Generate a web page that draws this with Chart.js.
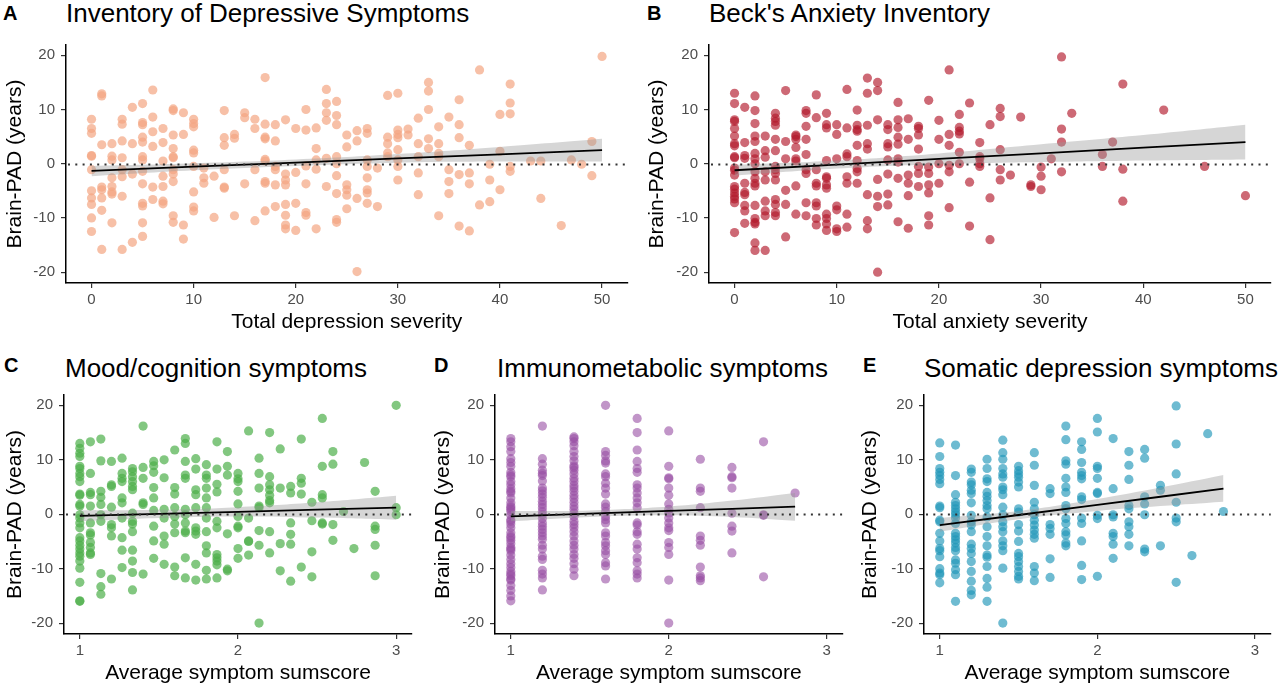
<!DOCTYPE html>
<html>
<head>
<meta charset="utf-8">
<script src="https://cdn.jsdelivr.net/npm/chart.js@4.4.1/dist/chart.umd.min.js"></script>
<style>
  body { margin: 0; background: #fff; width: 1280px; height: 690px; position: relative; overflow: hidden;
         font-family: "Liberation Sans", Arial, sans-serif; }
  canvas { position: absolute; }
  .tag { position: absolute; font-weight: bold; font-size: 20px; line-height: 20px; color: #000; }
  .ttl { position: absolute; font-size: 26px; line-height: 26px; white-space: nowrap; color: #000; }
</style>
</head>
<body>
<div class="tag" style="left:3px;top:3px">A</div>
<div class="ttl" style="left:66px;top:0px">Inventory of Depressive Symptoms</div>
<div class="tag" style="left:647px;top:3px">B</div>
<div class="ttl" style="left:709px;top:0px">Beck's Anxiety Inventory</div>
<div class="tag" style="left:4px;top:355px">C</div>
<div class="ttl" style="left:65px;top:355px">Mood/cognition symptoms</div>
<div class="tag" style="left:434px;top:355px">D</div>
<div class="ttl" style="left:497px;top:355px">Immunometabolic symptoms</div>
<div class="tag" style="left:863px;top:355px">E</div>
<div class="ttl" style="left:924px;top:355px">Somatic depression symptoms</div>

<canvas id="cA" width="640" height="310" style="left:0;top:30px"></canvas>
<canvas id="cB" width="640" height="310" style="left:640px;top:30px"></canvas>
<canvas id="cC" width="430" height="310" style="left:0;top:380px"></canvas>
<canvas id="cD" width="430" height="310" style="left:430px;top:380px"></canvas>
<canvas id="cE" width="425" height="310" style="left:855px;top:380px"></canvas>

<script>
// ---- tick labels ----
const sevTicks = [0, 10, 20, 30, 40, 50];
const avgTicks = [1, 2, 3];
const padTicks = [-20, -10, 0, 10, 20];

// ---- A: depression severity (x) vs brain-PAD (y), grouped by x ----
const depX = [0,1,2,3,4,5,6,7,8,9,10,11,12,13,14,15,16,17,18,19,20,21,22,23,24,25,26,27,28,29,30,31,32,33,34,35,36,37,38,39,40,41,43,44,46,47,48,49,50];
const depY = [
  [8.2,6.5,5.6,1.5,1.4,-1.1,-5,-6.3,-7.5,-10,-12.5],
  [12.9,12.5,3.5,-4.3,-4.8,-6.3,-8.6,-15.8],
  [3.7,1.4,0.7,-2.6,-4.2,-5.2,-5.6,-10.9],
  [8.2,7.3,4.2,1.1,-1.1,-2.4,-6,-15.8],
  [10.4,3.7,-1.9,-14.5],
  [11.1,7.6,7.2,4.9,4,1.3,0.7,-1.4,-3.7,-7.3,-7.8,-10.9,-13.4],
  [13.6,8.6,5.9,3.2,-4.3,-6.6],
  [6.5,3.9,0.5,-2.3,-4.2,-6.9,-7.4],
  [10.1,9.8,5.3,2.8,1.3,1.1,-1.1,-1.9,-3.3,-9.6,-10.8],
  [9.4,5.4,-11.3,-13.9],
  [8.2,7.4,6.8,2.5,2.0,-0.5,-5.2,-8,-8.7],
  [-0.8,-2.6,-3.6],
  [-2.3,-9.9],
  [9.8,4.8,3.4,-1.1,-4.3,-4.5],
  [5.4,4.7,-9.6],
  [9.4,8.5,-3.7],
  [8.2,6.5,-1.1,-10.5],
  [15.9,7.3,4.9,4.6,0.8,0.5,-3.3,-3.6,-8.7],
  [7.2,4.2,-0.5,-1.1,-3.9,-7.9],
  [8.1,-1.9,-3,-3.9,-7.5,-9.5,-11.3,-12],
  [6.5,-1.6,-7.3,-12.3],
  [10,6.2,-0.4,-3.7,-9,-9.5],
  [6.6,2.8,0.7,-1,-12],
  [13.7,11.1,9.4,8,1,-4.2],
  [11.5,8.9,7.2,1.3,0,-2.2,-5.5,-10.3,-10.8],
  [5.3,3.1,-3.9,-4.8,-5.8,-8.3],
  [6.1,4.2,-6.4,-19.9],
  [6.5,5.6,0.7,-0.5,-2.6,-4.8,-5.4,-7.3],
  [-0.8,-7.9],
  [12.6,4.9,3.7,2,1.3],
  [13,6.2,5.4,4.8,2.6,0.7,-0.5,-3],
  [6.4,5.3],
  [8.4,3.7,1.3,-1.7,-5.7],
  [15,13.4,10,4.6,2.8],
  [6.8,3.7,1.9,1.3,-9.6],
  [8.6,-1.1,-3.3,-5.5],
  [11.8,7.2,4.8,-2,-11.5],
  [3.4,-1.7,-3.7,-12.4],
  [17.3,-7.6],
  [-0.1,-3,-7],
  [9.1,2.3,-4.8],
  [14.7,11.2,9.2,-0.5,-1.4],
  [0.5],
  [0.5,-6.4],
  [-11.4],
  [0.7],
  [-0.1],
  [4.1,-2.2],
  [19.8]
];
const depBandX = [0, 10, 20, 30, 40, 50];
const depFit = [-1.3, -0.54, 0.22, 0.98, 1.74, 2.5];
const depHi = [-0.4, 0.1, 0.8, 1.8, 3.1, 4.6];
const depLo = [-2.3, -1.2, -0.4, 0.2, 0.4, 0.4];

// ---- B: anxiety severity ----
const anxX = [0,1,2,3,4,5,6,7,8,9,10,11,12,13,14,15,16,17,18,19,20,21,22,23,24,25,26,27,28,29,30,31,32,33,36,37,38,42,46,50];
const anxY = [
  [13,11.1,8.1,7.8,6.5,5.1,3.7,3.3,1.3,1.1,-0.8,-1.2,-2.1,-4.2,-4.7,-5.4,-6,-6.5,-7.2,-12.7],
  [10.4,3.9,1.5,1,-3.6,-5.3,-5.7,-7.7,-8.7,-11],
  [12.5,9.8,7.4,5.1,4.1,1.9,0.9,0,-1.5,-2.7,-3.6,-4.1,-7.7,-10.1,-10.8,-11.1,-14.6,-16],
  [5.1,2.4,1.2,-1.5,-3,-6.9,-8.7,-9.6,-16],
  [9.3,8.4,7.8,7.1,4.5,2.4,-0.5,-1.1,-1.8,-3,-6.6,-7.5,-9,-9.6],
  [13.5,4.1,0.9,-4.9,-7.5,-13.5],
  [5.3,5,4.5,3,0.9,0.5,-4.1,-9.3],
  [9.8,9.3,6.9,4.5,1.7,-1.1,-1.8,-7.2,-9.6],
  [12.7,8.5,-1.1,-3.6,-4.1,-7.2,-7.8,-10.1,-11.3],
  [9.3,7.2,6.6,0.6,-2.4,-2.7,-3.9,-4.5,-9.3,-10.1,-11.1,-12.3],
  [7.2,5.4,0.9,-7.8,-8.5,-12,-12.5],
  [13.7,6.6,1.8,1.3,-2.4,-3.6,-9.3,-11.7],
  [9.9,7.1,6.3,6,3.4,0.6,-0.9,-1.5,-3.6],
  [15.8,13,7.1,3.7,2.7,-5.7,-10.5,-12],
  [15,13.5,8.1,-2.9,-6,-7.9,-20],
  [7.2,6.3,3.7,3.1,0.7,-1.9,-5.6,-7.6],
  [11.3,8.1,6.7,4.9,3.6,0.9,0.3,-2.7,-10.7],
  [8.3,4.5,-2.1,-3.6,-5.9,-11.9],
  [6.9,6.5,5.3,2.7,-0.5,-1.8,-4.2],
  [11.7,-0.6,-1.8,-3.9,-5.4,-9.6,-11.3],
  [8,4.5,0,-3.6],
  [17.3,5.4,3.4,-0.3,-1.5,-8.1],
  [9.1,6.7,6,5.5,2.1,0],
  [11.2,-3.4,-11.5],
  [3.9,1.3,0.9,0,-0.5],
  [7.2,-6.3,-14],
  [10.2,8.7,2.6,-1.1,-3],
  [-2.1],
  [8.6],
  [-3.9,-4.2],
  [-0.6,-2.3,-4.8],
  [0.9],
  [19.7,6.4,4,-1.5],
  [9.3],
  [1.7,-0.5],
  [4],
  [14.7,-1,-6.9],
  [9.9],
  [-0.5],
  [-5.9]
];
const anxBandX = [0, 10, 20, 30, 40, 50];
const anxFit = [-1.2, -0.16, 0.88, 1.92, 2.96, 4.0];
const anxHi = [-0.2, 0.6, 1.9, 3.6, 5.3, 7.2];
const anxLo = [-2.2, -0.9, -0.1, 0.3, 0.6, 0.8];

// ---- C: mood/cognition sumscore ----
const moodX = [1,1.067,1.133,1.2,1.267,1.333,1.4,1.467,1.533,1.6,1.667,1.733,1.8,1.867,1.933,2,2.067,2.133,2.2,2.267,2.333,2.4,2.467,2.533,2.6,2.667,2.733,2.8,2.867,3];
const moodY = [
  [13,12.1,11.2,10.6,8.8,8.4,7.5,6.9,6,3.7,3.5,1.8,1.5,-0.1,-0.7,-1.6,-2.5,-4.3,-4.9,-5.7,-6.4,-7.1,-7.7,-8.6,-9.9,-12.5,-15.9,-16],
  [13.3,7.5,4,3.6,1.5,-1.6,-3.4,-3.8,-5.2,-6.1,-7.1,-7.4],
  [13.8,9.8,4.2,3.1,1.8,-0.1,-1.3,-10.9,-13.3,-14.7],
  [9.7,5.4,5.1,1.3,-1.9,-2.5,-4,-11.9],
  [10.3,7.5,6.6,6,3,2.1,-0.7,-4.3,-6.6,-9.8],
  [8.4,7.8,6.9,6,5.1,4.5,0.2,-1.3,-1.8,-3.2,-6.6,-8.6,-10.7,-13.9],
  [16.2,8.6,6.6,2.1,1.8,-11],
  [9.7,8.9,7.7,4.9,3,0.7,-2.2,-4.9,-8.1],
  [10,6.7,0.9,-0.7,-4,-5.5,-9.2],
  [11.8,4.9,3.7,1.2,-0.4,-1.8,-3.4,-9.7,-11.3],
  [13.9,13,9.7,7.2,6.6,0.9,-0.1,-1.6,-3.1,-3.4,-8,-11.7],
  [10.2,8.3,4.5,3.6,1.2,-2.5,-3.1,-3.7,-9.2,-12.1],
  [9.1,7.2,6.6,4.8,3,1.2,-0.7,-3.2,-5.8,-7.1,-10.3,-11.9],
  [13.3,8.3,5.5,4.1,-1.3,-2.5,-7.4,-8,-8.6,-9.3,-11.7],
  [11.5,8.8,7.2,-3.6,-10.1,-10.4],
  [7.5,6.5,6,4.2,1.9,-0.4,-2.2,-2.5,-6.3,-8.1],
  [15.3,-0.7,-4.9,-5,-7.5],
  [10.3,7.5,4.8,1.5,1.2,-3,-5.7,-20],
  [15,6.9,5.4,4.5,3.5,2.5,2.1,-3.2,-7.1],
  [12,4.8,-5.4,-10.4],
  [5.1,3.9,-1.6,-3.7,-5.5,-12.3],
  [13.8,6.6,5.7,3.7,-9.7],
  [2.2,-1.2,-6.9,-11.5],
  [17.6,8.8,3.6,3,-1.6,-1.8],
  [11.5,9.2,-1.9,-4.8],
  [0.5],
  [-6.3],
  [9.5],
  [4.2,-2.2,-2.8,-5.7,-11.3],
  [20,1.2,-0.1]
];
const moodBandX = [1, 1.5, 2, 2.5, 3];
const moodFit = [-0.3, 0.08, 0.45, 0.83, 1.2];
const moodHi = [0.7, 0.8, 1.3, 2.2, 3.4];
const moodLo = [-1.3, -0.7, -0.4, -0.6, -1.0];

// ---- D: immunometabolic sumscore ----
const immX = [1, 1.2, 1.4, 1.6, 1.8, 2, 2.2, 2.4, 2.6, 2.8];
const immY = [
  [13.9,13.3,12.4,11.5,10.2,9.5,8.8,7.7,7.2,6.9,6,5.4,4.7,4.2,3.9,3,2.1,1.5,1.2,0.9,0.5,-0.2,-1,-1.3,-1.8,-2.5,-3.4,-4,-4.3,-4.8,-5.4,-6.1,-6.4,-6.7,-7.5,-8.3,-9.1,-9.8,-10.5,-11,-11.3,-11.9,-12.1,-13.1,-14,-15,-15.9],
  [16.2,10.2,9.2,8.1,7.5,7.1,6.1,4.8,4.3,3.7,3.1,2.4,1.8,1.2,0.5,-0.1,-0.8,-1.6,-2.2,-2.8,-3.4,-4,-4.6,-5.7,-6.4,-7.7,-8.3,-10.3,-11,-11.7,-13.9],
  [14.2,13.9,13.3,12.6,11.5,10.6,9.8,8.9,8.6,8.1,7.4,6.6,6,5.3,4.8,4.2,3.5,2.9,2.2,1.5,0.9,0.2,-0.4,-1.3,-1.9,-2.5,-3.2,-4,-4.9,-5.7,-6.4,-7.4,-8.1,-9.1,-10.1,-11.3],
  [20,11.5,10.8,9.8,9.4,7.4,6.9,5.7,4.8,3.7,1.9,1.3,0.5,-0.4,-1,-1.6,-3.4,-4,-5.2,-5.8,-6.7,-7.4,-8.9,-9.5,-11.9],
  [17.6,15,11.8,9.7,8.4,7.7,5.4,4.8,3.9,3,2.1,1.2,-1.6,-2,-3.2,-3.7,-5.5,-6.4,-8,-8.9,-10.4,-11,-11.7],
  [15.3,8.8,6.7,6.5,4.8,3.5,1.9,0.9,0.2,-0.7,-1.6,-2.5,-3,-5.2,-6.1,-7.4,-12.1,-20],
  [10.1,4.8,4.2,1.2,-4,-4.8,-5.7,-9.7,-11.3,-11.7,-12.2],
  [8.6,6.9,6.7,4.8,0.2,-2.2,-3.1,-7.1],
  [13.3,-0.1,-0.2,-11.5],
  [3.9]
];
const immBandX = [1, 1.5, 2, 2.4, 2.8];
const immFit = [-0.4, 0.1, 0.6, 1.0, 1.4];
const immHi = [0.6, 0.7, 1.4, 2.5, 3.9];
const immLo = [-1.3, -0.5, -0.2, -0.5, -1.2];

// ---- E: somatic sumscore ----
const somX = [1,1.1,1.2,1.3,1.4,1.5,1.6,1.7,1.8,1.9,2,2.1,2.2,2.3,2.4,2.5,2.6,2.7,2.8];
const somY = [
  [13.1,10.6,8.4,7.7,7.1,6.4,5.6,1.5,1.2,-1.1,-1.4,-3.5,-4.9,-6.3,-6.7,-7.8,-10,-10.8,-11.1,-12.6],
  [12.7,7.1,3.6,2.2,1.6,1,0.4,-0.1,-0.7,-1.7,-3.5,-4.1,-4.7,-5.3,-6.1,-6.7,-8.4,-9,-10.2,-11.1,-16],
  [8.3,7.7,5.9,5.4,4.4,3.8,2.1,-0.2,-1.4,-2,-3.2,-5.5,-6.3,-7.2,-8.7,-10.5,-12.3,-14,-14.8],
  [10.1,8.4,6.5,6,4,3.3,2.5,1.6,1,-0.5,-2.3,-4.1,-5.8,-7.5,-7.9,-9.6,-11.8,-13.4,-16],
  [13.6,11.3,10.1,8.4,7.4,6.8,5,4.5,3.6,1.3,-0.1,-1.4,-2.3,-3.2,-4.9,-5.8,-6.7,-9.9,-20],
  [8.8,8,7.4,6.8,5.9,5,1,0.4,-1.9,-3.1,-5,-7.2,-7.8,-8.7,-9.6,-10.5,-11.4,-11.9],
  [11.3,9,5.3,2.2,1,-0.1,-1.1,-2,-2.9,-3.7,-4.4,-9.6,-10.8,-12.2],
  [4.7,3.8,-1.9,-2.6,-3.7,-8.2,-11.6],
  [16.2,13.7,9.8,9.2,6.6,5,4,1.6,1,-0.8,-1.7,-3.2,-3.8,-5.3,-5.8],
  [13.3,11.9,9.5,7.7,7.1,6.5,3.2,2.7,-0.7,-1.7,-4.9,-9.4,-12],
  [17.6,15.1,8.8,8.4,6.6,4,3.8,-0.2,-0.8,-11.4],
  [13.9,4.7,-0.1,-0.5,-3.5,-4.1,-5.5,-8.1],
  [11.5,9,6.4,1.6,1,-1.4,-2.3,-3.7,-5.8],
  [11.9,10.3,3.2,1.9,-0.1,-6.4,-6.9],
  [5.3,4.4,-5.8],
  [19.9,12.9,7.4,2.2,-0.7,-1.4,-12.5],
  [-7.6],
  [14.8],
  [0.5]
];
const somBandX = [1, 1.5, 2, 2.4, 2.8];
const somFit = [-2.0, -0.14, 1.72, 3.21, 4.7];
const somHi = [-0.7, 0.6, 2.8, 4.9, 7.2];
const somLo = [-3.2, -0.9, 0.6, 1.5, 2.3];

/* ===== helpers ===== */
Chart.defaults.font.family = '"Liberation Sans", Arial, sans-serif';
const BAND = 'rgba(153,153,153,0.4)';
const TICK_GRAY = '#4d4d4d';

const toPoints = (xs, ys) => xs.flatMap((x, i) => ys[i].map(y => ({ x, y })));
const pair = (xs, ys) => xs.map((x, i) => ({ x, y: ys[i] }));

// dotted reference line at y = 0 across the whole panel
const zeroLine = {
  id: 'zeroLine',
  afterDatasetsDraw(chart) {
    const { ctx, chartArea: a, scales: { y } } = chart;
    const py = Math.round(y.getPixelForValue(0)) + 0.5;
    ctx.save();
    ctx.strokeStyle = '#333';
    ctx.lineWidth = 2;
    ctx.setLineDash([2, 5.3]);
    ctx.beginPath();
    ctx.moveTo(a.left + 2, py);
    ctx.lineTo(a.right, py);
    ctx.stroke();
    ctx.restore();
  }
};

function axis(o) {
  return {
    type: 'linear', min: o.min, max: o.max,
    afterBuildTicks: s => { s.ticks = o.ticks.map(v => ({ value: v })); },
    afterFit: o.fit,
    grid: { drawOnChartArea: false, drawTicks: true, tickLength: 5, tickColor: '#333', lineWidth: 1.2 },
    border: { display: true, color: '#000', width: 1.5 },
    ticks: { color: TICK_GRAY, font: { size: 15 }, padding: o.tpad },
    title: { display: true, text: o.title, color: '#000', font: { size: 21 }, padding: o.titlePad }
  };
}

function panel(id, p) {
  new Chart(document.getElementById(id), {
    type: 'scatter',
    data: {
      datasets: [
        { type: 'line', data: pair(p.bandX, p.fit), borderColor: '#000', borderWidth: 1.8,
          pointRadius: 0, tension: 0, fill: false, order: 0 },
        { type: 'line', data: pair(p.bandX, p.hi), borderColor: 'rgba(0,0,0,0)', borderWidth: 1,
          pointRadius: 0, tension: 0.4, fill: '+1', backgroundColor: BAND, order: 1 },
        { type: 'line', data: pair(p.bandX, p.lo), borderColor: 'rgba(0,0,0,0)', borderWidth: 1,
          pointRadius: 0, tension: 0.4, fill: false, order: 2 },
        { data: toPoints(p.xs, p.ys), backgroundColor: p.color, borderWidth: 0,
          pointRadius: 4.6, order: 3 }
      ]
    },
    options: {
      responsive: false, animation: false, devicePixelRatio: 1,
      layout: { padding: { top: p.padTop, right: p.padRight, left: 0, bottom: 0 } },
      plugins: { legend: { display: false }, tooltip: { enabled: false } },
      scales: {
        x: axis({ min: p.xMin, max: p.xMax, ticks: p.xTicks, tpad: 3, title: p.xTitle,
                  titlePad: { top: 0, bottom: p.xTitleBottom },
                  fit: s => { s.height = p.xH; } }),
        y: axis({ min: -22, max: 21.9, ticks: padTicks, tpad: 6, title: 'Brain-PAD (years)',
                  titlePad: { top: p.yTitleTop, bottom: 0 },
                  fit: s => { s.width = p.yW; } })
      }
    },
    plugins: [zeroLine]
  });
}

panel('cA', { xs: depX, ys: depY, bandX: depBandX, fit: depFit, hi: depHi, lo: depLo,
  color: 'rgba(244,165,130,0.7)', xMin: -2.5, xMax: 52.5, xTicks: sevTicks,
  xTitle: 'Total depression severity', padTop: 9, padRight: 12.4, xH: 57, yW: 66,
  xTitleBottom: 5.4, yTitleTop: 2.4 });

panel('cB', { xs: anxX, ys: anxY, bandX: anxBandX, fit: anxFit, hi: anxHi, lo: anxLo,
  color: 'rgba(178,24,43,0.65)', xMin: -2.5, xMax: 52.5, xTicks: sevTicks,
  xTitle: 'Total anxiety severity', padTop: 9, padRight: 9, xH: 57, yW: 69,
  xTitleBottom: 5.4, yTitleTop: 4.4 });

panel('cC', { xs: moodX, ys: moodY, bandX: moodBandX, fit: moodFit, hi: moodHi, lo: moodLo,
  color: 'rgba(77,175,74,0.7)', xMin: 0.9, xMax: 3.1, xTicks: avgTicks,
  xTitle: 'Average symptom sumscore', padTop: 11, padRight: 18, xH: 56, yW: 64,
  xTitleBottom: 4.4, yTitleTop: 2.4 });

panel('cD', { xs: immX, ys: immY, bandX: immBandX, fit: immFit, hi: immHi, lo: immLo,
  color: 'rgba(152,78,163,0.6)', xMin: 0.9, xMax: 3.1, xTicks: avgTicks,
  xTitle: 'Average symptom sumscore', padTop: 11, padRight: 17.5, xH: 56, yW: 65,
  xTitleBottom: 4.4, yTitleTop: 0.7 });

panel('cE', { xs: somX, ys: somY, bandX: somBandX, fit: somFit, hi: somHi, lo: somLo,
  color: 'rgba(33,150,185,0.65)', xMin: 0.9, xMax: 3.1, xTicks: avgTicks,
  xTitle: 'Average symptom sumscore', padTop: 11, padRight: 9.25, xH: 56, yW: 69,
  xTitleBottom: 4.4, yTitleTop: 2.4 });
</script>
</body>
</html>
